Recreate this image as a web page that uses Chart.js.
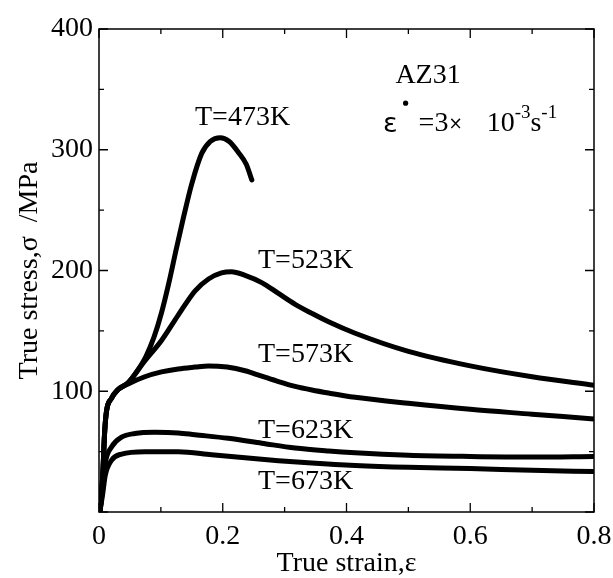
<!DOCTYPE html>
<html lang="en">
<head>
<meta charset="UTF-8">
<title>AZ31 true stress-strain curves</title>
<script src="https://cdn.jsdelivr.net/npm/chart.js"></script>
<style>
  body { margin: 0; background: #fff; }
  #wrap { width: 613px; height: 578px; }
</style>
</head>
<body>
<div id="wrap"><canvas id="curves"></canvas></div>
<script>
// strain / stress (MPa) read per test temperature
const strain473 = [0.002, 0.006, 0.009, 0.012, 0.02, 0.03, 0.047, 0.062, 0.076, 0.089, 0.101, 0.113, 0.125, 0.137, 0.15, 0.166, 0.18, 0.196, 0.21, 0.225, 0.238, 0.247];
const stress473 = [2, 30, 65, 83, 94, 101, 107, 117, 129, 145, 165, 190, 218, 245, 272, 297, 307, 310, 307, 298, 288, 275];

const strain523 = [0.002, 0.006, 0.009, 0.012, 0.02, 0.03, 0.047, 0.074, 0.101, 0.128, 0.155, 0.177, 0.198, 0.214, 0.236, 0.263, 0.29, 0.317, 0.344, 0.371, 0.414, 0.5, 0.6, 0.7, 0.8];
const stress523 = [2, 30, 65, 83, 94, 101, 107, 125, 142, 163, 183, 193, 198, 199, 196, 190, 181, 172, 164.5, 157.5, 148, 133, 121, 112, 105];

const strain573 = [0.002, 0.006, 0.009, 0.012, 0.02, 0.03, 0.047, 0.074, 0.101, 0.128, 0.155, 0.177, 0.207, 0.236, 0.263, 0.29, 0.317, 0.344, 0.371, 0.414, 0.5, 0.6, 0.7, 0.8];
const stress573 = [2, 30, 65, 83, 94, 101, 106, 112, 116, 118.5, 120, 121, 120, 117, 112.5, 108, 104, 101, 98.5, 95, 90, 85, 81, 77];

const strain623 = [0.002, 0.006, 0.01, 0.0205, 0.0366, 0.058, 0.09, 0.128, 0.155, 0.209, 0.263, 0.317, 0.371, 0.414, 0.5, 0.6, 0.7, 0.8];
const stress623 = [2, 20, 40, 54, 62, 65, 66, 65.5, 64, 61, 57, 53, 50.5, 49, 47, 46, 45.5, 46];

const strain673 = [0.002, 0.006, 0.01, 0.0205, 0.0366, 0.074, 0.128, 0.182, 0.236, 0.29, 0.344, 0.414, 0.5, 0.6, 0.7, 0.8];
const stress673 = [2, 15, 30, 43, 48, 50, 50, 47.5, 45, 42.5, 40.5, 38.5, 37, 36, 34.5, 33.5];

const tempLabels = ['T=473K', 'T=523K', 'T=573K', 'T=623K', 'T=673K'];

const serif = "'Liberation Serif', 'DejaVu Serif', serif";
const fontPx = 28;

function pts(xs, ys) { return xs.map((x, i) => ({ x, y: ys[i] })); }

function series(label, xs, ys) {
  return {
    label, data: pts(xs, ys),
    showLine: true, pointRadius: 0, borderColor: '#000', borderWidth: 5,
    borderCapStyle: 'round', borderJoinStyle: 'round',
    cubicInterpolationMode: 'monotone'
  };
}

// label anchors in data units (strain, stress)
const labelAnchors = [
  { text: tempLabels[0], x: 0.232, y: 327, align: 'center' },
  { text: tempLabels[1], x: 0.257, y: 208, align: 'left' },
  { text: tempLabels[2], x: 0.257, y: 130, align: 'left' },
  { text: tempLabels[3], x: 0.257, y: 67, align: 'left' },
  { text: tempLabels[4], x: 0.257, y: 25, align: 'left' }
];

// frame with inward ticks on all four sides
const frame = {
  id: 'frame',
  afterDatasetsDraw(chart) {
    const { ctx, chartArea: a, scales: { x, y } } = chart;
    ctx.save();
    ctx.strokeStyle = '#000';
    ctx.lineWidth = 1.5;
    ctx.strokeRect(a.left, a.top, a.right - a.left, a.bottom - a.top);
    ctx.lineWidth = 1.3;
    ctx.beginPath();
    x.ticks.forEach(t => {
      const px = x.getPixelForValue(t.value);
      const len = Math.round(t.value * 10) % 2 === 0 ? 9 : 5;
      ctx.moveTo(px, a.bottom); ctx.lineTo(px, a.bottom - len);
      ctx.moveTo(px, a.top); ctx.lineTo(px, a.top + len);
    });
    y.ticks.forEach(t => {
      const py = y.getPixelForValue(t.value);
      const len = t.value % 100 === 0 ? 9 : 5;
      ctx.moveTo(a.left, py); ctx.lineTo(a.left + len, py);
      ctx.moveTo(a.right, py); ctx.lineTo(a.right - len, py);
    });
    ctx.stroke();
    ctx.restore();
  }
};

// curve names, alloy name and strain-rate note
const notes = {
  id: 'notes',
  afterDraw(chart) {
    const { ctx, scales: { x, y } } = chart;
    ctx.save();
    ctx.fillStyle = '#000';
    ctx.textBaseline = 'middle';
    ctx.font = fontPx + 'px ' + serif;
    labelAnchors.forEach(l => {
      ctx.textAlign = l.align;
      ctx.fillText(l.text, x.getPixelForValue(l.x), y.getPixelForValue(l.y));
    });
    ctx.textAlign = 'left';
    ctx.fillText('AZ31', x.getPixelForValue(0.479), y.getPixelForValue(361));

    // ε̇ = 3× 10^-3 s^-1
    let px = x.getPixelForValue(0.459);
    const py = y.getPixelForValue(322);
    ctx.font = "27px 'DejaVu Sans', sans-serif";
    ctx.fillText('ε', px, py + 2);
    const ew = ctx.measureText('ε').width;
    ctx.beginPath();
    ctx.arc(px + ew + 8, py - 20, 2.6, 0, Math.PI * 2);
    ctx.fill();
    px += ew + 21;
    ctx.font = fontPx + 'px ' + serif;
    ctx.fillText('=3', px, py);
    px += ctx.measureText('=3').width;
    ctx.font = "17px 'DejaVu Sans', sans-serif";
    ctx.fillText('×', px, py + 1);
    px += ctx.measureText('×').width + 24;
    ctx.font = fontPx + 'px ' + serif;
    ctx.fillText('10', px, py);
    px += ctx.measureText('10').width;
    ctx.font = '19px ' + serif;
    ctx.fillText('-3', px, py - 10);
    px += ctx.measureText('-3').width;
    ctx.font = fontPx + 'px ' + serif;
    ctx.fillText('s', px, py);
    px += ctx.measureText('s').width;
    ctx.font = '19px ' + serif;
    ctx.fillText('-1', px, py - 10);
    ctx.restore();
  }
};

new Chart(document.getElementById('curves'), {
  type: 'scatter',
  data: {
    datasets: [
      series(tempLabels[0], strain473, stress473),
      series(tempLabels[1], strain523, stress523),
      series(tempLabels[2], strain573, stress573),
      series(tempLabels[3], strain623, stress623),
      series(tempLabels[4], strain673, stress673)
    ]
  },
  options: {
    responsive: true,
    maintainAspectRatio: false,
    animation: false,
    layout: { padding: { top: 29, right: 19, left: 0, bottom: 0 } },
    plugins: { legend: { display: false }, tooltip: { enabled: false } },
    scales: {
      x: {
        type: 'linear', min: 0, max: 0.8,
        grid: { display: false, drawTicks: false }, border: { display: false },
        ticks: {
          stepSize: 0.1, autoSkip: false, maxRotation: 0, padding: 8,
          color: '#000', font: { family: serif, size: fontPx },
          callback: v => {
            const k = Math.round(v * 10);
            if (k % 2) return '';
            return k === 0 ? '0' : (k / 10).toFixed(1);
          }
        },
        title: { display: true, text: 'True strain,ε', color: '#000', font: { family: serif, size: fontPx, lineHeight: 1 }, padding: { bottom: 0 } },
        afterFit(scale) {
          scale.height = 66;
          scale.paddingLeft = 0;
          scale.paddingRight = 0;
        }
      },
      y: {
        type: 'linear', min: 0, max: 400,
        grid: { display: false, drawTicks: false }, border: { display: false },
        ticks: {
          stepSize: 50, autoSkip: false, padding: 6,
          color: '#000', font: { family: serif, size: fontPx },
          callback: v => (v > 0 && v % 100 === 0) ? String(v) : ''
        },
        title: { display: true, text: 'True stress,σ  /MPa', color: '#000', font: { family: serif, size: fontPx }, padding: { top: 13 } },
        afterFit(scale) {
          scale.width = 99;
          scale.paddingTop = 0;
          scale.paddingBottom = 0;
        }
      }
    }
  },
  plugins: [frame, notes]
});
</script>
</body>
</html>
